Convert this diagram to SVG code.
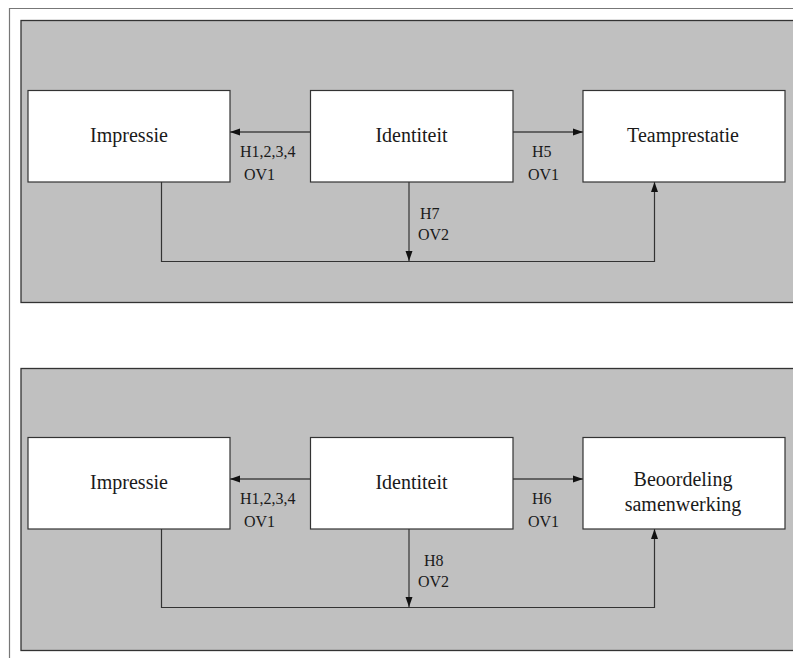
<svg xmlns="http://www.w3.org/2000/svg" width="793" height="658" viewBox="0 0 793 658">
<style>
.panel{fill:#c0c0c0;stroke:#333;stroke-width:1.3}
.box{fill:#fff;stroke:#333;stroke-width:1.2}
.lbl{font-family:"Liberation Serif","Times New Roman",serif;font-size:20px;fill:#1a1a1a;text-anchor:middle}
.sm{font-family:"Liberation Serif","Times New Roman",serif;font-size:16px;fill:#1a1a1a}
.c{fill:none;stroke:#333;stroke-width:1.2}
.a{fill:none;stroke:#444;stroke-width:1.5}
</style>
<defs>
<marker id="ah" markerUnits="userSpaceOnUse" markerWidth="10" markerHeight="8" refX="10" refY="4" orient="auto">
<path d="M0,0.5 L10,4 L0,7.5 z" fill="#111"/>
</marker>
</defs>
<rect width="793" height="658" fill="#fff"/>
<path d="M9.5,658 V8.5 H793" fill="none" stroke="#777" stroke-width="1.2"/>
<rect class="panel" x="21" y="20.5" width="790" height="282"/>
<rect class="panel" x="21" y="368.5" width="790" height="282"/>
<g id="connectors">
<line class="a" x1="310" y1="132" x2="230" y2="132" marker-end="url(#ah)"/>
<line class="a" x1="513" y1="132" x2="583" y2="132" marker-end="url(#ah)"/>
<line class="c" x1="409" y1="182" x2="409" y2="261" marker-end="url(#ah)"/>
<polyline class="c" points="161.5,182 161.5,261.5 654.5,261.5 654.5,182" marker-end="url(#ah)"/>
<line class="a" x1="310" y1="479" x2="230" y2="479" marker-end="url(#ah)"/>
<line class="a" x1="513" y1="479" x2="583" y2="479" marker-end="url(#ah)"/>
<line class="c" x1="409" y1="529" x2="409" y2="607" marker-end="url(#ah)"/>
<polyline class="c" points="161.5,529 161.5,607.5 654.5,607.5 654.5,529" marker-end="url(#ah)"/>
<text class="sm" x="240" y="157">H1,2,3,4</text>
<text class="sm" x="244" y="180">OV1</text>
<text class="sm" x="532" y="157">H5</text>
<text class="sm" x="528" y="180">OV1</text>
<text class="sm" x="420" y="219">H7</text>
<text class="sm" x="418" y="240">OV2</text>
<text class="sm" x="240" y="504">H1,2,3,4</text>
<text class="sm" x="244" y="527">OV1</text>
<text class="sm" x="532" y="504">H6</text>
<text class="sm" x="528" y="527">OV1</text>
<text class="sm" x="424" y="566">H8</text>
<text class="sm" x="418" y="587">OV2</text>
</g>
<g id="impressie1"><rect class="box" x="28" y="90.5" width="202" height="91.5"/><text class="lbl" x="129" y="141.5">Impressie</text></g>
<g id="identiteit1"><rect class="box" x="310.5" y="90.5" width="202.5" height="91.5"/><text class="lbl" x="411.5" y="141.5">Identiteit</text></g>
<g id="teamprestatie"><rect class="box" x="583" y="90.5" width="202" height="91.5"/><text class="lbl" x="683" y="141.5">Teamprestatie</text></g>
<g id="impressie2"><rect class="box" x="28" y="437.5" width="202" height="91.5"/><text class="lbl" x="129" y="488.5">Impressie</text></g>
<g id="identiteit2"><rect class="box" x="310.5" y="437.5" width="202.5" height="91.5"/><text class="lbl" x="411.5" y="488.5">Identiteit</text></g>
<g id="beoordeling"><rect class="box" x="583" y="437.5" width="202" height="91.5"/><text class="lbl" x="683" y="486">Beoordeling</text><text class="lbl" x="683" y="510.5">samenwerking</text></g>
</svg>
